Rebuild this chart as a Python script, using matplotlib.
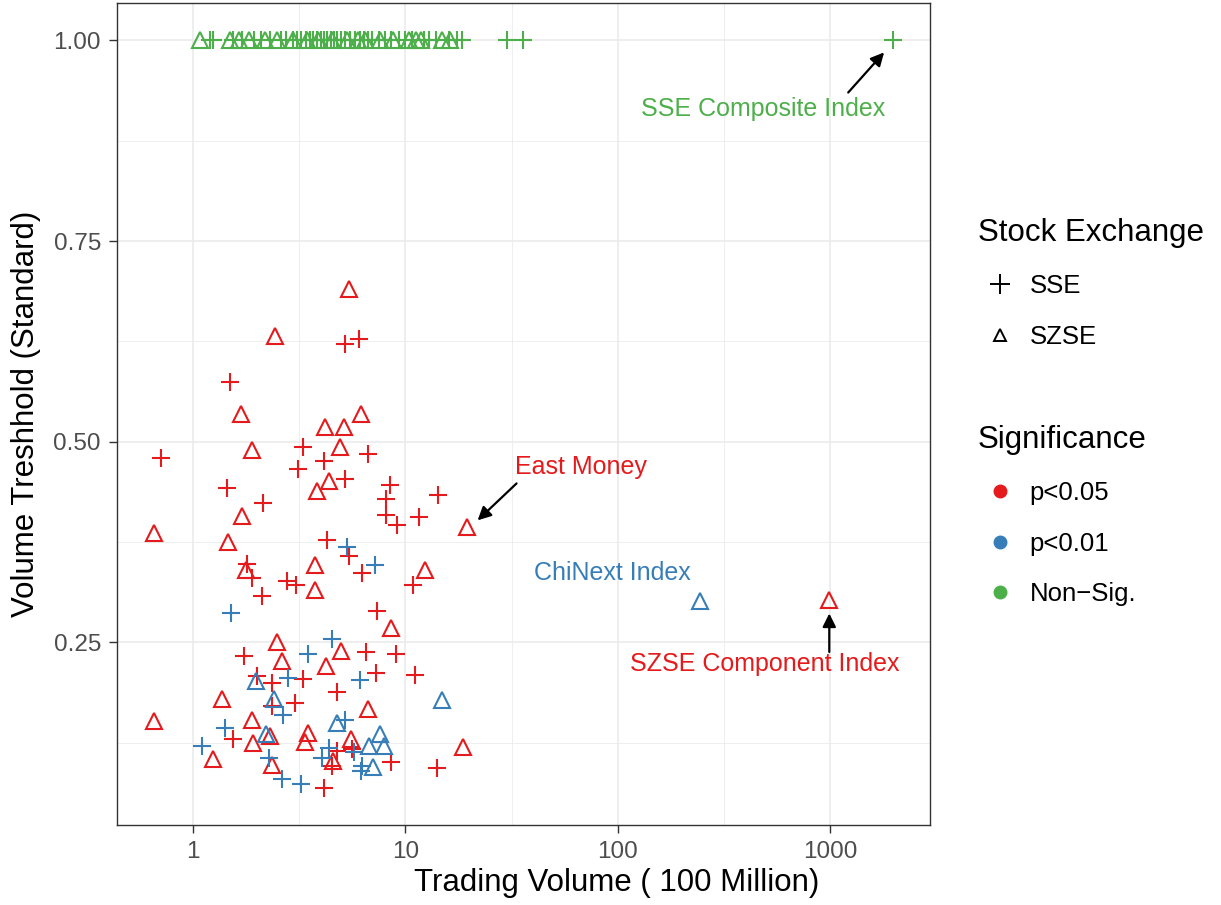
import numpy as np
import matplotlib
matplotlib.use("Agg")
import matplotlib.pyplot as plt
from matplotlib.lines import Line2D
from matplotlib.ticker import FixedLocator, NullFormatter, FuncFormatter

plt.rcParams['font.family'] = ['Liberation Sans', 'DejaVu Sans']

# trading volume (100 million) and standardised volume threshold, per group
# SSE = plus, SZSE = triangle; red p<0.05, blue p<0.01, green non-significant
red_sse_vol = [5.23, 6.04, 1.50, 3.31, 6.66, 0.706, 4.16, 3.12, 5.20, 1.455, 8.50, 14.3,
               2.15, 8.14, 8.16, 9.14, 11.55, 4.30, 5.43, 6.26, 1.81, 1.91, 2.79, 3.05,
               2.11, 10.9, 7.37, 1.75, 6.54, 9.04, 7.31, 11.1, 2.00, 2.37, 3.31, 4.75,
               2.37, 3.03, 1.54, 4.78, 5.62, 4.53, 8.59, 14.1, 4.14]
red_sse_thr = [0.622, 0.628, 0.574, 0.494, 0.485, 0.480, 0.476, 0.466, 0.453, 0.442, 0.446, 0.434,
               0.424, 0.429, 0.409, 0.396, 0.406, 0.377, 0.357, 0.337, 0.347, 0.330, 0.327, 0.321,
               0.308, 0.322, 0.289, 0.233, 0.238, 0.236, 0.212, 0.209, 0.208, 0.199, 0.204, 0.188,
               0.171, 0.174, 0.129, 0.115, 0.117, 0.096, 0.101, 0.093, 0.069]

red_szse_vol = [5.43, 2.44, 1.68, 6.22, 4.19, 5.14, 1.91, 4.92, 4.37, 3.86, 1.70, 19.6,
                0.657, 1.46, 3.76, 12.4, 1.78, 3.78, 8.59, 2.48, 4.99, 2.62, 4.26, 1.37,
                6.68, 0.661, 1.91, 2.31, 1.93, 3.50, 3.38, 5.56, 18.6, 1.25, 2.35, 4.58, 989]
red_szse_thr = [0.690, 0.632, 0.535, 0.535, 0.518, 0.518, 0.490, 0.494, 0.451, 0.438, 0.408, 0.394,
                0.386, 0.375, 0.346, 0.340, 0.340, 0.315, 0.268, 0.250, 0.239, 0.227, 0.220, 0.179,
                0.167, 0.152, 0.153, 0.133, 0.125, 0.137, 0.126, 0.130, 0.120, 0.105, 0.097, 0.102, 0.303]

blue_sse_vol = [5.33, 7.23, 1.51, 4.50, 3.49, 2.81, 6.11, 2.66, 5.20, 1.42, 1.10, 2.29,
                4.37, 5.77, 4.07, 6.26, 6.22, 2.62, 3.22]
blue_sse_thr = [0.369, 0.346, 0.286, 0.254, 0.236, 0.205, 0.203, 0.160, 0.153, 0.143, 0.121, 0.106,
                0.118, 0.113, 0.106, 0.096, 0.090, 0.080, 0.073]

blue_szse_vol = [1.98, 2.40, 14.9, 4.78, 2.22, 7.58, 6.78, 7.92, 7.03, 243]
blue_szse_thr = [0.202, 0.179, 0.178, 0.149, 0.136, 0.136, 0.121, 0.121, 0.095, 0.301]

green_sse_vol = [1.2, 1.25, 1.55, 1.7, 1.95, 2.1, 2.3, 2.6, 2.75, 2.95, 3.1, 3.25, 3.4, 3.55,
                 3.7, 3.85, 4.0, 4.15, 4.3, 4.45, 4.6, 4.8, 5.0, 5.2, 5.5, 5.8, 6.1, 6.4, 6.7,
                 7.0, 7.5, 8.0, 8.6, 9.3, 10.0, 10.8, 12.3, 13.0, 14.0, 16.0, 17.5, 18.5,
                 30.0, 36.0, 1974]
green_szse_vol = [1.08, 1.5, 1.65, 1.85, 2.2, 2.5, 2.95, 3.45, 3.9, 4.5, 5.3, 6.0, 6.5, 7.6,
                  8.8, 10.4, 11.2, 11.8, 14.9, 16.3]

RED, BLUE, GREEN = '#E41A1C', '#377EB8', '#4DAF4A'

fig = plt.figure(figsize=(12.21, 9.05), dpi=100)
ax = fig.add_axes([0.0958, 0.0884, 0.6659, 0.9083])

plus_kw = dict(marker='+', ls='', ms=13, mew=1.5)
tri_kw = dict(marker='^', ls='', ms=11, mew=1.5, mfc='none')

ax.plot(green_sse_vol, np.ones(len(green_sse_vol)), color=GREEN, **plus_kw)
ax.plot(green_szse_vol, np.ones(len(green_szse_vol)), mec=GREEN, **tri_kw)
ax.plot(red_sse_vol, red_sse_thr, color=RED, **plus_kw)
ax.plot(red_szse_vol, red_szse_thr, mec=RED, **tri_kw)
ax.plot(blue_sse_vol, blue_sse_thr, color=BLUE, **plus_kw)
ax.plot(blue_szse_vol, blue_szse_thr, mec=BLUE, **tri_kw)

# ggplot-like 5% expansion
all_vol = np.log10(red_sse_vol + red_szse_vol + blue_sse_vol + blue_szse_vol
                   + green_sse_vol + green_szse_vol)
all_thr = np.array(red_sse_thr + red_szse_thr + blue_sse_thr + blue_szse_thr + [1.0])
lo, hi = all_vol.min(), all_vol.max()
pad = 0.05 * (hi - lo)
ax.set_xscale('log')
ax.set_xlim(10 ** (lo - pad), 10 ** (hi + pad))
ylo, yhi = all_thr.min(), all_thr.max()
ypad = 0.05 * (yhi - ylo)
ax.set_ylim(ylo - ypad, yhi + ypad)

ax.xaxis.set_major_locator(FixedLocator([1, 10, 100, 1000]))
ax.xaxis.set_minor_locator(FixedLocator([10 ** 0.5, 10 ** 1.5, 10 ** 2.5]))
ax.xaxis.set_major_formatter(FuncFormatter(lambda v, p: f"{v:g}"))
ax.xaxis.set_minor_formatter(NullFormatter())
ax.yaxis.set_major_locator(FixedLocator([0.25, 0.5, 0.75, 1.0]))
ax.yaxis.set_minor_locator(FixedLocator([0.125, 0.375, 0.625, 0.875]))
ax.yaxis.set_major_formatter(FuncFormatter(lambda v, p: f"{v:.2f}"))

ax.grid(which='major', color='#EBEBEB', lw=1.2)
ax.grid(which='minor', color='#EBEBEB', lw=0.6)
ax.set_axisbelow(True)
for s in ax.spines.values():
    s.set_color('#333333')
    s.set_linewidth(1.0)
ax.tick_params(which='major', length=5.5, width=1.0, color='#333333',
               labelsize=17.5, labelcolor='#4D4D4D', pad=6)
ax.tick_params(which='minor', length=0)

ax.set_xlabel('Trading Volume ( 100 Million)', fontsize=22.5)
ax.xaxis.set_label_coords(0.615, -0.052)
ax.set_ylabel('Volume Treshhold (Standard)', fontsize=22.5, labelpad=9)

# labels and arrows
arrow = dict(arrowstyle='-|>', color='black', lw=1.6, mutation_scale=20,
             shrinkA=0, shrinkB=0)
ax.text(485, 0.915, 'SSE Composite Index', color=GREEN, fontsize=18,
        ha='center', va='center')
ax.annotate('', xy=(1791, 0.985), xytext=(1214, 0.935), arrowprops=arrow)
ax.text(67.3, 0.469, 'East Money', color=RED, fontsize=18, ha='center', va='center')
ax.annotate('', xy=(21.9, 0.402), xytext=(33.4, 0.448), arrowprops=arrow)
ax.text(94.1, 0.337, 'ChiNext Index', color=BLUE, fontsize=18, ha='center', va='center')
ax.text(491, 0.223, 'SZSE Component Index', color=RED, fontsize=18,
        ha='center', va='center')
ax.annotate('', xy=(989, 0.286), xytext=(989, 0.238), arrowprops=arrow)

# legends
leg_kw = dict(loc='upper left', frameon=False, borderpad=0, borderaxespad=0,
              handlelength=1.7, handletextpad=0.3, labelspacing=1.03,
              fontsize=18.5, title_fontsize=22.5, alignment='left')
shape_handles = [
    Line2D([], [], marker='+', ls='', color='black', ms=14, mew=1.4, label='SSE'),
    Line2D([], [], marker='^', ls='', mec='black', mfc='none', ms=9, mew=1.4, label='SZSE'),
]
fig.legend(handles=shape_handles, title='Stock Exchange',
           bbox_to_anchor=(978 / 1221, 1 - 218 / 905), **leg_kw)
sig_handles = [
    Line2D([], [], marker='o', ls='', color=RED, ms=9, label='p<0.05'),
    Line2D([], [], marker='o', ls='', color=BLUE, ms=9, label='p<0.01'),
    Line2D([], [], marker='o', ls='', color=GREEN, ms=9, label='Non\u2212Sig.'),
]
fig.legend(handles=sig_handles, title='Significance',
           bbox_to_anchor=(978 / 1221, 1 - 425 / 905), **leg_kw)

fig.savefig('out.png', dpi=100)
